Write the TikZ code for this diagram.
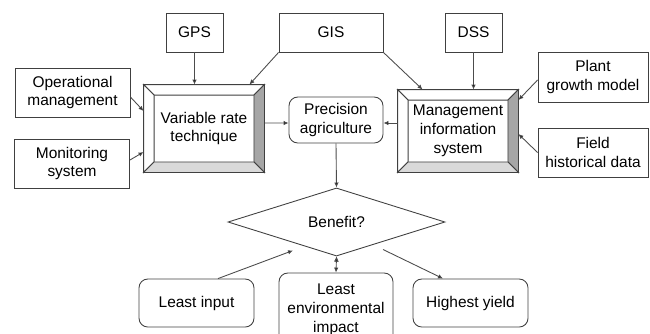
\documentclass[tikz,border=0pt]{standalone}
\usepackage{fontspec}
\setmainfont{Liberation Sans}
\usetikzlibrary{shapes.geometric,arrows.meta}

\begin{document}
\begin{tikzpicture}[font=\fontsize{8.8}{10.8}\selectfont]
			\tikzstyle{box}=[rectangle,draw=black!75,line width=0.5pt,inner sep=0pt,align=center]
			\tikzstyle{rbox}=[box,rounded corners=5pt]
			\tikzstyle{bevelbox}=[box,minimum width=2.4cm]
			\tikzstyle{link}=[draw=black!70,line width=0.5pt,-{Latex[length=1mm,width=0.9mm]}]
			\clip (0,0) rectangle (13,-6.66);
			\begin{scope}
			\node[box,minimum width=1.14cm,minimum height=0.78cm] (gps) at (3.89,-0.65) {GPS};
			\node[box,minimum width=2.08cm,minimum height=0.78cm] (gis) at (6.62,-0.65) {GIS};
			\node[box,minimum width=1.14cm,minimum height=0.78cm] (dss) at (9.47,-0.65) {DSS};
			\node[box,minimum width=2.30cm,minimum height=0.98cm] (op) at (1.45,-1.85) {Operational\\management};
			\node[box,minimum width=2.30cm,minimum height=0.98cm] (mon) at (1.44,-3.27) {Monitoring\\system};
			\node[bevelbox,minimum height=1.74cm] (vrt) at (4.08,-2.57) {Variable rate\\technique};
			\node[rbox,minimum width=1.88cm,minimum height=0.92cm] (prec) at (6.72,-2.40) {Precision\\agriculture};
			\node[bevelbox,minimum height=1.64cm] (mis) at (9.16,-2.62) {Management\\information\\system};
			\node[box,minimum width=2.20cm,minimum height=1.00cm] (plant) at (11.86,-1.54) {Plant\\growth model};
			\node[box,minimum width=2.20cm,minimum height=0.98cm] (field) at (11.86,-3.05) {Field\\historical data};
			\node[box,diamond,minimum width=4.34cm,minimum height=0.76cm] (benefit) at (6.73,-4.44) {Benefit?};
			\node[rbox,minimum width=2.30cm,minimum height=0.96cm] (lin) at (3.93,-6.06) {Least input};
			\node[rbox,minimum width=2.28cm,minimum height=1.48cm] (lei) at (6.72,-6.20) {Least\\environmental\\impact};
			\node[rbox,minimum width=2.30cm,minimum height=0.96cm] (hy) at (9.41,-6.06) {Highest yield};
			\end{scope}

			% bevelled frames
			\foreach \n in {vrt,mis} {
			\filldraw[fill=white,draw=black!75,line width=0.5pt] (\n.north west) -- (\n.north east) -- ([shift={(-0.21,-0.21)}]\n.north east) -- ([shift={(0.21,-0.21)}]\n.north west) -- cycle;
			\filldraw[fill=white,draw=black!75,line width=0.5pt] (\n.north west) -- (\n.south west) -- ([shift={(0.21,0.21)}]\n.south west) -- ([shift={(0.21,-0.21)}]\n.north west) -- cycle;
			\filldraw[fill=black!35,draw=black!75,line width=0.5pt] (\n.north east) -- (\n.south east) -- ([shift={(-0.21,0.21)}]\n.south east) -- ([shift={(-0.21,-0.21)}]\n.north east) -- cycle;
			\filldraw[fill=black!15,draw=black!75,line width=0.5pt] (\n.south west) -- (\n.south east) -- ([shift={(-0.21,0.21)}]\n.south east) -- ([shift={(0.21,0.21)}]\n.south west) -- cycle;
			}

			\path[link]
			(gps.south) edge (gps.south |- vrt.north)
			(gis.south west) edge ([xshift=-0.3cm]vrt.north east)
			(gis.south east) edge ([xshift=0.5cm]mis.north west)
			(dss.south) edge (dss.south |- mis.north)
			([yshift=-0.09cm]op.east) edge ([yshift=0.35cm]vrt.west)
			([yshift=0.07cm]mon.east) edge ([yshift=-0.47cm]vrt.west)
			([yshift=0.11cm]vrt.east) edge ([yshift=-0.06cm]prec.west)
			([yshift=0.16cm]mis.west) edge ([yshift=-0.06cm]prec.east)
			([yshift=-0.06cm]plant.west) edge ([yshift=0.62cm]mis.east)
			(field.west) edge ([yshift=-0.06cm]mis.east)
			(prec.south) edge (benefit.north)
			([xshift=0.43cm]lin.north) edge ([xshift=-0.87cm,yshift=0.12cm]benefit.south)
			([xshift=0.93cm,yshift=0.14cm]benefit.south) edge ([xshift=-0.55cm]hy.north)
			(benefit.south) edge[<->,>={Latex[length=1mm,width=0.9mm]}] (lei.north)
			;
		\end{tikzpicture}
\end{document}
